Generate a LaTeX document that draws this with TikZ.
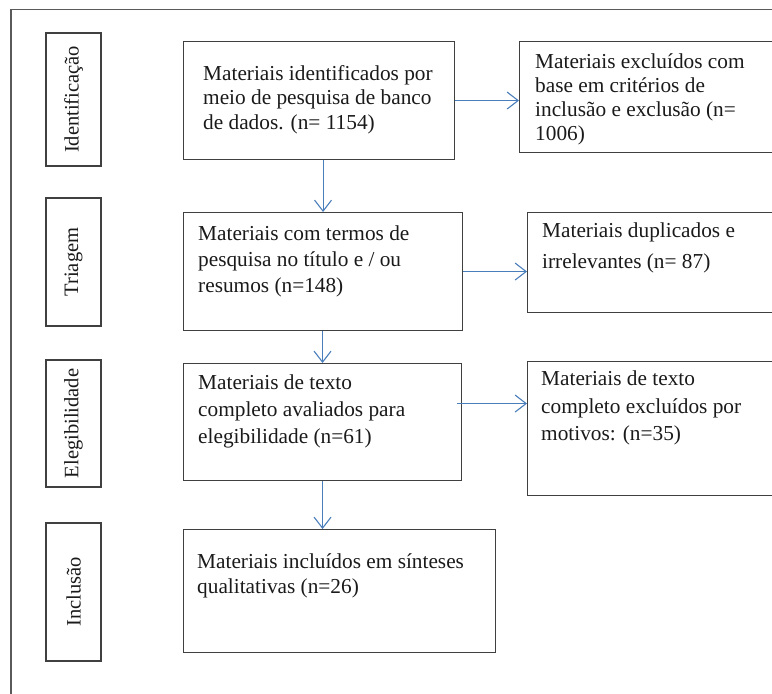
\documentclass[tikz,border=0pt]{standalone}
\usepackage{fontspec}
\setmainfont{Liberation Serif}
\usetikzlibrary{arrows.meta}
\definecolor{arrblue}{HTML}{4A7EBB}
\definecolor{boxgray}{HTML}{404040}
\definecolor{framegray}{HTML}{5A5A5A}
\definecolor{txtcol}{HTML}{1A1A1A}
\begin{document}
\begin{tikzpicture}[x=1pt,y=-1pt,
  box/.style={draw=boxgray, line width=1.1pt, rectangle, inner sep=0pt, anchor=north west},
  lab/.style={draw=boxgray, line width=1.1pt, rectangle, inner sep=0pt, rotate=90,
    text=txtcol, font=\fontsize{20.5}{24}\selectfont},
  txt/.style={anchor=north west, inner sep=0pt, align=left, text=txtcol},
  arr/.style={draw=arrblue, line width=1.1pt, -{Straight Barb[length=11pt,width=17pt,line width=1.1pt]}}]
\useasboundingbox (0,0) rectangle (772,694);
\clip (0,0) rectangle (772,694);
\draw[framegray, line width=1.6pt] (11,9.5) rectangle (820,760);
% stage labels
\node[lab, minimum width=133pt, minimum height=55pt] (l1) at (73.5,99.5) {Identificação};
\node[lab, minimum width=128pt, minimum height=55pt] (l2) at (73.5,262) {Triagem};
\node[lab, minimum width=127pt, minimum height=55pt] (l3) at (73.5,423.5) {Elegibilidade};
\node[lab, minimum width=138pt, minimum height=55pt] (l4) at (73.5,592) {Inclusão};
% main boxes
\node[box, minimum width=271pt, minimum height=118pt] (b1) at (183,41) {};
\node[box, minimum width=279pt, minimum height=118pt] (b2) at (183,212) {};
\node[box, minimum width=278pt, minimum height=117pt] (b3) at (183,363) {};
\node[box, minimum width=312pt, minimum height=123pt] (b4) at (183,529) {};
% right boxes
\node[box, minimum width=300pt, minimum height=111pt] (r1) at (519,41) {};
\node[box, minimum width=300pt, minimum height=100pt] (r2) at (527,212) {};
\node[box, minimum width=300pt, minimum height=134pt] (r3) at (527,361) {};
% texts (placed at baseline - strut height)
\node[txt, font=\fontsize{21.3}{24.5}\selectfont] (t1) at (203,80-17.15)
  {\strut Materiais identificados por\\meio de pesquisa de banco\\de dados. (n= 1154)};
\node[txt, font=\fontsize{21.3}{24}\selectfont] (tr1) at (535,68-16.8)
  {\strut Materiais excluídos com\\base em critérios de\\inclusão e exclusão (n=\\1006)};
\node[txt, font=\fontsize{21.3}{26}\selectfont] (t2) at (198,240-18.2)
  {\strut Materiais com termos de\\pesquisa no título e / ou\\resumos (n=148)};
\node[txt, font=\fontsize{21.3}{30.6}\selectfont] (tr2) at (542,237.7-21.42)
  {\strut Materiais duplicados e\\irrelevantes (n= 87)};
\node[txt, font=\fontsize{21.3}{27}\selectfont] (t3) at (198,389-18.9)
  {\strut Materiais de texto\\completo avaliados para\\elegibilidade (n=61)};
\node[txt, font=\fontsize{21.3}{27.5}\selectfont] (tr3) at (541,385.5-19.25)
  {\strut Materiais de texto\\completo excluídos por\\motivos: (n=35)};
\node[txt, font=\fontsize{21.3}{25}\selectfont] (t4) at (197,568-17.5)
  {\strut Materiais incluídos em sínteses\\qualitativas (n=26)};
% arrows
\draw[arr] (b1.east) -- (b1.east -| r1.west);
\draw[arr] (b2.east) -- (b2.east -| r2.west);
\coordinate (s3) at ([xshift=-5pt,yshift=18.5pt]b3.east);
\draw[arr] (s3) -- (s3 -| r3.west);
\draw[arr] (b1.south -| b2.north) -- (b2.north);
\draw[arr] (b2.south -| b3.north) -- (b3.north);
\draw[arr] (b3.south) -- (b3.south |- b4.north);
\end{tikzpicture}
\end{document}
